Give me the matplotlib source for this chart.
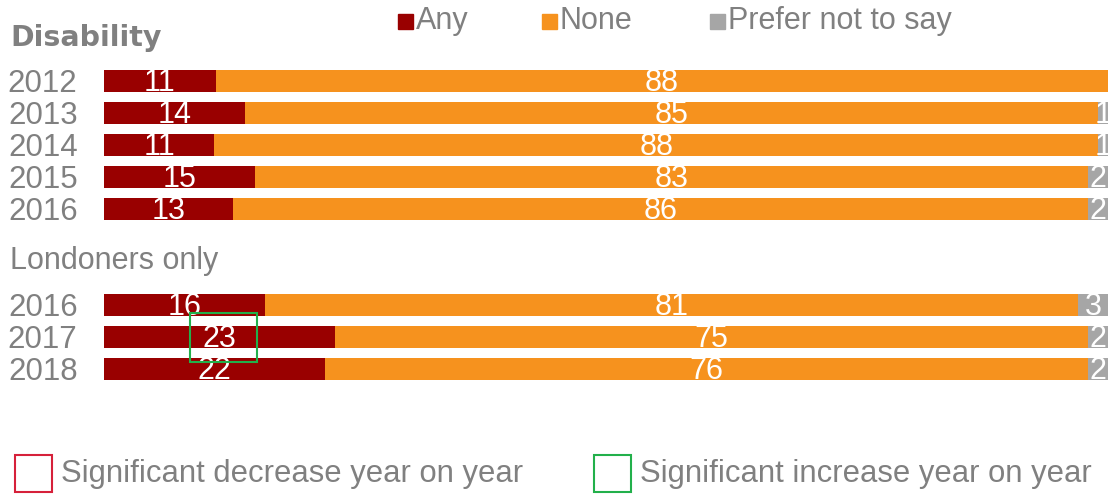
import numpy as np
import matplotlib
matplotlib.use("Agg")
import matplotlib.pyplot as plt
from matplotlib.patches import Rectangle

plt.rcParams['font.family'] = ['Liberation Sans', 'DejaVu Sans']

# survey results, percent of respondents
years = ['2012', '2013', '2014', '2015', '2016', '2016', '2017', '2018']
any_pct = [11, 14, 11, 15, 13, 16, 23, 22]
none_pct = [88, 85, 88, 83, 86, 81, 75, 76]
prefer_pct = [0, 1, 1, 2, 2, 3, 2, 2]
rows = [0, 1, 2, 3, 4, 7, 8, 9]
# significant year-on-year changes: (row index into lists, 'up'/'down')
sig_changes = [(6, 'up')]

RED = '#990000'
ORANGE = '#F6921E'
GREY = '#A6A6A6'
TEXT = '#808080'
W, H = 1110, 495

fig = plt.figure(figsize=(W / 100, H / 100), dpi=100)
ax = fig.add_axes([104 / W, (H - 385) / H, (1108 - 104) / W, 320 / H])

parts = np.array([any_pct, none_pct, prefer_pct], dtype=float)
shares = parts / parts.sum(axis=0) * 100
colors = [RED, ORANGE, GREY]
left = np.zeros(len(years))
for seg, raw, col in zip(shares, parts, colors):
    ax.barh(rows, seg, left=left, height=0.69, color=col, edgecolor='none')
    for r, l, s, v in zip(rows, left, seg, raw):
        if v > 0:
            ax.text(l + s / 2, r + 0.06, f'{v:.0f}', ha='center', va='center',
                    color='white', fontsize=22)
    left += seg

# outline boxes round the labels that changed significantly
for i, kind in sig_changes:
    c = shares[0][i] / 2 + 0.4
    col = '#22B04B' if kind == 'up' else '#D6203A'
    ax.add_patch(Rectangle((c - 3.3, rows[i] - 0.75), 6.6, 1.53, fill=False,
                           edgecolor=col, linewidth=1.5, zorder=5))

ax.set_xlim(0, 100)
ax.set_ylim(9.5, -0.5)
ax.set_yticks(rows)
ax.set_yticklabels(years, fontsize=22.5, color=TEXT)
ax.tick_params(axis='y', length=0, pad=19)
ax.set_xticks([])
for s in ax.spines.values():
    s.set_visible(False)

fig.text(10 / W, 1 - 38 / H, 'Disability', fontsize=20.5, fontweight='bold',
         color=TEXT, family='DejaVu Sans', va='center')
fig.text(10 / W, 1 - 261 / H, 'Londoners only', fontsize=22, color=TEXT, va='center')

# top legend
for lab, col, x in [('Any', RED, 398), ('None', ORANGE, 542), ('Prefer not to say', GREY, 710)]:
    fig.patches.append(Rectangle((x / W, 1 - 29 / H), 15 / W, 15 / H, color=col,
                                 transform=fig.transFigure, figure=fig))
    fig.text((x + 18) / W, 1 - 21 / H, lab, fontsize=22, color=TEXT, va='center')

# bottom legend
for lab, col, x in [('Significant decrease year on year', '#D6203A', 15),
                    ('Significant increase year on year', '#22B04B', 594)]:
    fig.patches.append(Rectangle((x / W, 1 - 492 / H), 37 / W, 37 / H, fill=False,
                                 edgecolor=col, linewidth=1.5,
                                 transform=fig.transFigure, figure=fig))
    fig.text((x + 46) / W, 1 - 474 / H, lab, fontsize=22.3, color=TEXT, va='center')

fig.savefig('out.png', dpi=100, facecolor='white')
